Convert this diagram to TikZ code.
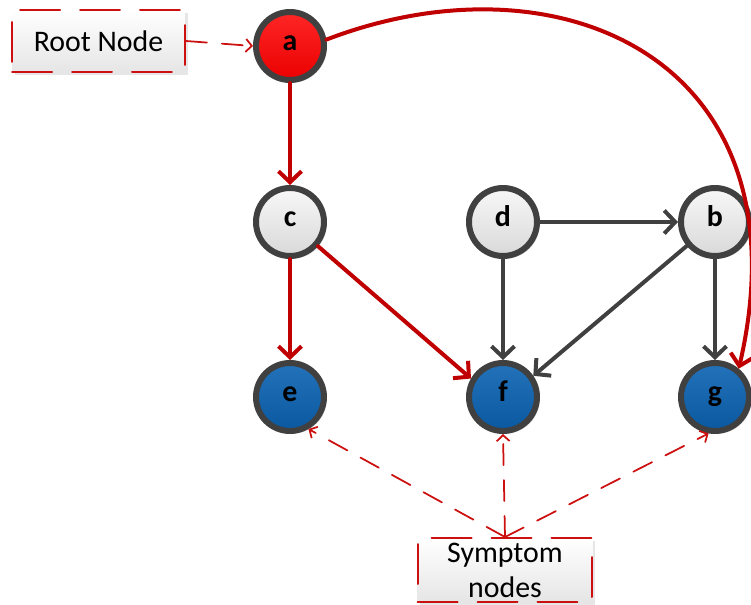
\documentclass[tikz,border=0pt]{standalone}
\usepackage{fontspec}
\setmainfont{Carlito}
\usetikzlibrary{arrows.meta,shadows}
\definecolor{causered}{HTML}{C00000}
\definecolor{edgegray}{HTML}{404040}
\definecolor{notered}{HTML}{CC1010}
\definecolor{symblue}{HTML}{0A62B2}

\begin{document}
\begin{tikzpicture}[x=0.02cm,y=-0.02cm,line cap=round,line join=round,
    vertex/.style={circle,draw=edgegray,line width=0.12cm,minimum size=1.36cm,inner sep=0pt,
      text height=1.25ex,text depth=0.25ex,
      font=\fontsize{17}{20}\selectfont\bfseries,
      drop shadow={shadow xshift=1.5pt,shadow yshift=-1.5pt,opacity=0.25,fill=gray}},
    rootv/.style={vertex,top color=red!85!white,bottom color=red!92!black},
    plainv/.style={vertex,top color=white!97!black,bottom color=white!85!black},
    symptomv/.style={vertex,top color=symblue!90!white,bottom color=symblue!90!black},
    causal/.style={draw=causered,line width=0.08cm,-{Straight Barb[length=0.22cm,width=0.46cm]}},
    link/.style={draw=edgegray,line width=0.08cm,-{Straight Barb[length=0.22cm,width=0.46cm]}},
    note/.style={draw=notered,line width=0.04cm,dash pattern=on 0.8cm off 0.4cm,
      top color=white,bottom color=white!90!black,inner sep=0pt,
      font=\fontsize{17}{20}\selectfont,
      drop shadow={shadow xshift=1.5pt,shadow yshift=-1.5pt,opacity=0.2,fill=gray}},
    pointer/.style={draw=notered,line width=0.035cm,dash pattern=on 0.42cm off 0.3cm,
      -{Straight Barb[length=0.12cm,width=0.26cm]}}]
  \useasboundingbox (0,0) rectangle (751,605);

  \node[rootv] (a) at (290,46) {a};
  \node[plainv] (c) at (290,222) {c};
  \node[plainv] (d) at (503,222) {d};
  \node[plainv] (b) at (715,222) {b};
  \node[symptomv] (e) at (290,397) {e};
  \node[symptomv] (f) at (503,397) {f};
  \node[symptomv] (g) at (715,397) {g};

  \node[note,minimum width=3.46cm,minimum height=1.24cm] (root) at (98.5,41) {Root Node};
  \node[note,minimum width=3.5cm,minimum height=1.28cm,align=center] (symptom) at (505,570)
    {Symptom\\nodes};

  \draw[causal] (a) -- (c);
  \draw[causal] (c) -- (e);
  \draw[causal] (c) -- (f.150);
  \draw[causal] (a.10) .. controls (560,-50) and (810,60) .. (g.50);
  \draw[link] (d) -- (b);
  \draw[link] (d) -- (f);
  \draw[link] (b) -- (f.35);
  \draw[link] (b) -- (g);

  \draw[pointer] (root.east) -- (a.west);
  \draw[pointer] (symptom.north) -- (e.-60);
  \draw[pointer] (symptom.north) -- (f.-90);
  \draw[pointer] (symptom.north) -- (g.-100);
\end{tikzpicture}
\end{document}
